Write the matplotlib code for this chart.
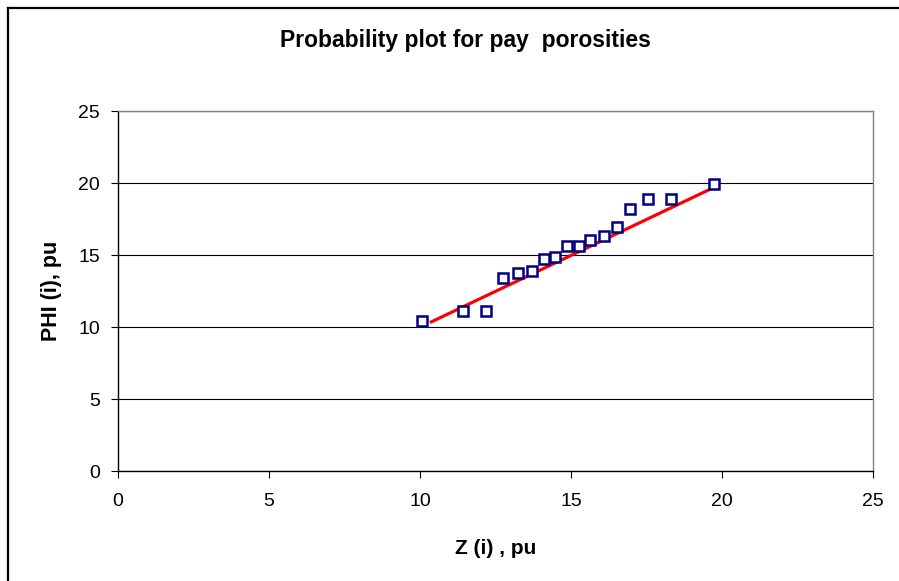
import matplotlib
matplotlib.use("Agg")
import matplotlib.pyplot as plt
from matplotlib.lines import Line2D

plt.rcParams["font.family"] = ["Liberation Sans", "DejaVu Sans"]

# Punkty danych
z_vals = [10.07, 11.41, 12.19, 12.75, 13.26, 13.71, 14.10, 14.47, 14.88,
          15.25, 15.63, 16.08, 16.52, 16.96, 17.54, 18.32, 19.73]
phi_vals = [10.42, 11.10, 11.10, 13.38, 13.77, 13.92, 14.73, 14.84, 15.65,
            15.65, 16.06, 16.32, 16.97, 18.19, 18.86, 18.86, 19.92]

# Linia trendu
fit_z = [10.33, 19.87]
fit_phi = [10.31, 19.83]

ticks = [0, 5, 10, 15, 20, 25]


def main():
    fig = plt.figure(figsize=(8.99, 5.81), dpi=100)
    fig.patch.set_facecolor("white")
    ax = fig.add_axes([118 / 899, 1 - 471 / 581, 755 / 899, 360 / 581])

    ax.plot(fit_z, fit_phi, color="#ff0000", linewidth=2.3, zorder=3,
            solid_capstyle="butt")
    ax.plot(z_vals, phi_vals, linestyle="none", marker="s", markersize=7.5,
            markerfacecolor="white", markeredgecolor="#000080",
            markeredgewidth=1.8, zorder=4)

    ax.set_xlim(0, 25)
    ax.set_ylim(0, 25)
    ax.set_xticks(ticks)
    ax.set_yticks(ticks)
    ax.yaxis.grid(True, color="black", linewidth=0.8, zorder=0)
    ax.set_axisbelow(True)

    for side in ("top", "right"):
        ax.spines[side].set_color("#808080")
        ax.spines[side].set_linewidth(1.0)
    for side in ("left", "bottom"):
        ax.spines[side].set_color("black")
        ax.spines[side].set_linewidth(1.0)

    ax.tick_params(direction="out", length=5, width=0.8, labelsize=14,
                   colors="black")
    ax.tick_params(axis="x", pad=11)
    ax.tick_params(axis="y", pad=8)

    ax.set_xlabel("Z (i) , pu", fontsize=15, fontweight="bold", labelpad=21)
    ax.set_ylabel("PHI (i), pu", fontsize=15.5, fontweight="bold", labelpad=12)
    fig.text(465.5 / 899, 1 - 41 / 581,
             "Probability plot for pay  porosities",
             ha="center", va="center", fontsize=16.5, fontweight="bold")

    # Ramka wykresu (prawa i dolna krawędź poza kadrem)
    x0 = 7.5 / 899
    y0 = 1 - 7.5 / 581
    fig.add_artist(Line2D([x0, x0], [0, y0], color="black", linewidth=1.6,
                          transform=fig.transFigure))
    fig.add_artist(Line2D([x0, 1], [y0, y0], color="black", linewidth=1.6,
                          transform=fig.transFigure))

    fig.savefig("out.png", dpi=100, facecolor="white")


if __name__ == "__main__":
    main()
